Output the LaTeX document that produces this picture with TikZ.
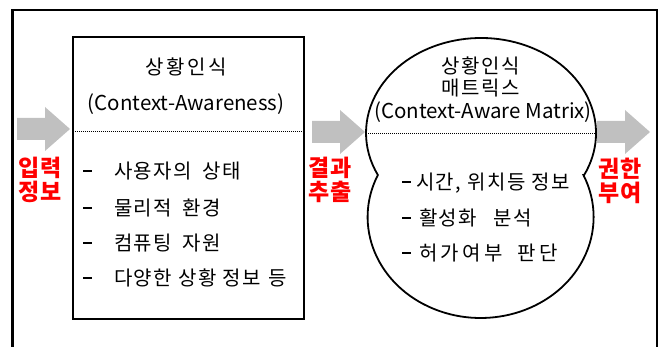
\documentclass[tikz,border=0pt]{standalone}
\usepackage{fontspec}
\setmainfont{Noto Sans CJK KR}
\definecolor{arrowgray}{RGB}{192,192,192}
\def\lsamt{1.5pt}
\def\lsp#1{\lspfirst#1\relax}
\def\lspfirst#1{#1\lsploop}
\def\lsploop#1{\ifx#1\relax\else\kern\lsamt#1\expandafter\lsploop\fi}
\newcommand\itemdashl{\rule[6.8pt]{9pt}{1.4pt}\hspace{22pt}}
\newcommand\itemdashr[1]{\rule[6.8pt]{9pt}{1.4pt}\hspace{#1}}
\begin{document}
\begin{tikzpicture}[x=1pt,y=-1pt,
  every node/.style={inner sep=0pt, outer sep=0pt},
  titletext/.style={font=\fontsize{20}{22}\selectfont},
  latintext/.style={font=\fontsize{20.5}{22}\selectfont},
  itemtext/.style={font=\fontsize{20}{22}\selectfont, anchor=west},
  redlabel/.style={font=\bfseries\fontsize{23}{24}\selectfont, text=red, align=center},
  divider/.style={line width=0.7pt, dash pattern=on 0.8pt off 1.2pt},
  frameline/.style={line width=2.8pt},
  boxline/.style={line width=2pt},
  blockarrow/.pic={\fill[arrowgray] (0,-11) -- (28,-11) -- (28,-22) -- (53,0) -- (28,22) -- (28,11) -- (0,11) -- cycle;}
]
\useasboundingbox (0,0) rectangle (664,347);
\begin{scope}
\clip (0,0) rectangle (664,347);
\draw[frameline] (12.5,360) -- (12.5,10) -- (657,10) -- (657,360);
\end{scope}

% arrows
\pic at (17,129) {blockarrow};
\pic at (312,132) {blockarrow};
\pic at (597,132) {blockarrow};

% left box
\node[draw, boxline, minimum width=231pt, minimum height=282pt] (lbox) at (188.4,178.4) {};
\coordinate (ldiv) at (0,131);
\draw[divider] (lbox.west |- ldiv) -- (lbox.east |- ldiv);
\begingroup\def\lsamt{2.5pt}
\node[titletext] (lt1) at (186,67) {\lsp{상황인식}};
\endgroup
\node[latintext] (lt2) at (186,104) {(Context-Awareness)};
\node[itemtext] (li1) at (83,171) {\itemdashl\lsp{사용자의}\hspace{10pt}\lsp{상태}};
\node[itemtext] (li2) at (83,208) {\itemdashl\lsp{물리적}\hspace{10pt}\lsp{환경}};
\node[itemtext] (li3) at (83,243) {\itemdashl\lsp{컴퓨팅}\hspace{10pt}\lsp{자원}};
\node[itemtext] (li4) at (83,278) {\itemdashl\lsp{다양한}\hspace{6pt}\lsp{상황}\hspace{6pt}\lsp{정보}\hspace{8pt}\lsp{등}};

% right shape
\coordinate (rl) at (366,133);
\coordinate (rr) at (596,133);
\draw[line width=1.8pt] (584.15,175) arc[start angle=-26.24, end angle=206.24, x radius=115pt, y radius=95pt]
  arc[start angle=155.43, end angle=384.57, x radius=113pt, y radius=101pt] -- cycle;
\draw[divider] (rl) -- (rr);
\begingroup\def\lsamt{1.5pt}
\node[titletext] (rt1) at (481,66) {\lsp{상황인식}};
\node[titletext] (rt2) at (481,88) {\lsp{매트릭스}};
\endgroup
\node[latintext] (rt3) at (483,112) {(Context-Aware Matrix)};
\node[itemtext] (ri1) at (402,183) {\itemdashr{5pt}\lsp{시간,}\hspace{6pt}\lsp{위치등}\hspace{6pt}\lsp{정보}};
\node[itemtext] (ri2) at (402,218) {\itemdashr{8pt}\lsp{활성화}\hspace{16pt}\lsp{분석}};
\begingroup\def\lsamt{3.5pt}
\node[itemtext] (ri3) at (402,253) {\itemdashr{8pt}\lsp{허가여부}\hspace{14pt}\lsp{판단}};
\endgroup

% red labels
\node[redlabel] (inp) at (40,180) {입력\\정보};
\node[redlabel] (ext) at (330,180) {결과\\추출};
\node[redlabel] (auth) at (620,181) {권한\\부여};
\end{tikzpicture}
\end{document}
